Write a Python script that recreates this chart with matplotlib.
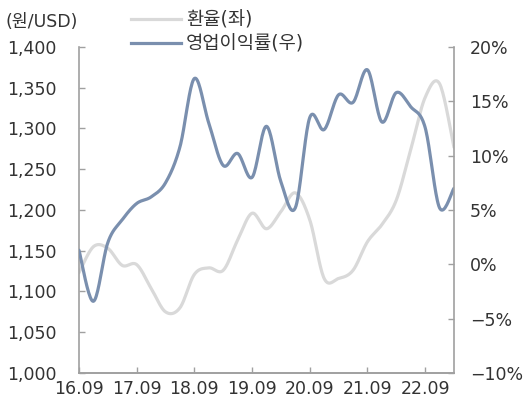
import numpy as np
import matplotlib
matplotlib.use("Agg")
import matplotlib.pyplot as plt
from matplotlib.lines import Line2D
from matplotlib.ticker import FuncFormatter

plt.rcParams['font.family'] = ['DejaVu Sans', 'Noto Sans CJK KR']

# quarterly data, 16.09 ~ 23.03
fx_rate = [1123, 1155, 1153, 1132, 1133, 1104, 1075, 1080, 1121, 1129,
           1126, 1163, 1196, 1177, 1198, 1221, 1188, 1116, 1116, 1126,
           1161, 1182, 1212, 1274, 1338, 1355, 1277]
op_margin = [1.3, -3.4, 2.0, 4.1, 5.6, 6.2, 7.5, 10.8, 17.1, 13.0,
             9.1, 10.2, 8.0, 12.7, 7.6, 5.2, 13.5, 12.4, 15.6, 14.9,
             17.9, 13.1, 15.8, 14.5, 12.6, 5.2, 7.0]
tick_labels = ['16.09', '17.09', '18.09', '19.09', '20.09', '21.09', '22.09']

months = np.arange(len(fx_rate)) * 3


def smooth(xs, ys, n=20):
    # catmull-rom, like excel's smoothed line
    p = np.column_stack([xs, ys]).astype(float)
    p = np.vstack([p[0], p, p[-1]])
    out = []
    for i in range(1, len(p) - 2):
        p0, p1, p2, p3 = p[i - 1], p[i], p[i + 1], p[i + 2]
        t = np.linspace(0, 1, n, endpoint=False)[:, None]
        seg = 0.5 * (2 * p1 + (-p0 + p2) * t
                     + (2 * p0 - 5 * p1 + 4 * p2 - p3) * t ** 2
                     + (-p0 + 3 * p1 - 3 * p2 + p3) * t ** 3)
        out.append(seg)
    out.append(p[-2][None, :])
    out = np.vstack(out)
    return out[:, 0], out[:, 1]


gray = '#d9d9d9'
blue = '#7a8fae'
axc = '#a0a0a0'
txt = '#333333'

fig = plt.figure(figsize=(5.23, 4.05), dpi=100)
ax = fig.add_axes([0.151, 0.079, 0.717, 0.805])
ax2 = ax.twinx()

sx, sy = smooth(months, fx_rate)
ax.plot(sx, sy, color=gray, lw=2.3, solid_capstyle='round')
bx, by = smooth(months, op_margin)
ax2.plot(bx, by, color=blue, lw=2.3, solid_capstyle='round')

ax.set_xlim(0, months[-1])
ax.set_ylim(1000, 1400)
ax.set_yticks(range(1000, 1401, 50))
ax.yaxis.set_major_formatter(FuncFormatter(lambda v, p: f'{int(v):,}'))
ax2.set_ylim(-10, 20)
ax2.set_yticks(range(-10, 21, 5))
ax2.yaxis.set_major_formatter(
    FuncFormatter(lambda v, p: f'{int(v)}%'.replace('-', '\u2212')))
ax.set_xticks(np.arange(len(tick_labels)) * 12)
ax.set_xticklabels(tick_labels)

for a in (ax, ax2):
    for s in a.spines.values():
        s.set_color(axc)
        s.set_linewidth(1.2)
    a.spines['top'].set_visible(False)
    a.tick_params(direction='in', length=4, width=1, color=axc,
                  labelsize=12.5, labelcolor=txt)
ax2.spines['left'].set_visible(False)
ax.spines['right'].set_visible(False)
ax.tick_params(axis='y', pad=16)
ax.tick_params(axis='x', pad=5)
ax2.tick_params(axis='y', pad=11.5)

fig.text(0.01, 0.945, '(원/USD)', fontsize=12.5, color=txt, va='center')

handles = [Line2D([], [], color=gray, lw=2.3),
           Line2D([], [], color=blue, lw=2.3)]
fig.legend(handles, ['환율(좌)', '영업이익률(우)'], loc='upper left',
           bbox_to_anchor=(0.25, 0.975), frameon=False, fontsize=13.5,
           handlelength=2.7, handletextpad=0.25, labelspacing=0.3,
           borderaxespad=0, borderpad=0.0, labelcolor=txt)

fig.savefig('out.png', dpi=100)
